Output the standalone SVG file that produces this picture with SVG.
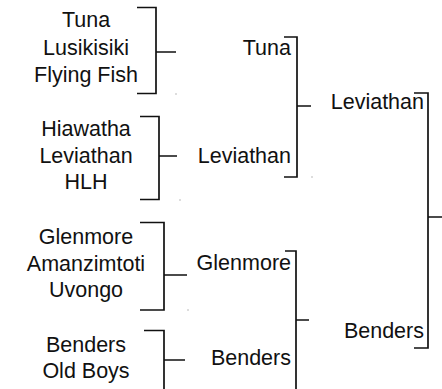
<svg xmlns="http://www.w3.org/2000/svg" width="442" height="389" viewBox="0 0 442 389">
<style>
text{font-family:"Liberation Sans",Arial,sans-serif;font-size:21.5px;fill:#111}
.c{text-anchor:middle}
.r{text-anchor:end}
.ln{fill:none;stroke:#111;stroke-width:1.7}
.dot{fill:#777}
</style>
<rect width="442" height="389" fill="#fff"/>
<g id="n-g1">
<text class="c" x="86" y="27">Tuna</text>
<text class="c" x="86" y="55">Lusikisiki</text>
<text class="c" x="86" y="82">Flying Fish</text>
</g>
<g id="n-g2">
<text class="c" x="86" y="136">Hiawatha</text>
<text class="c" x="86" y="163">Leviathan</text>
<text class="c" x="86" y="189">HLH</text>
</g>
<g id="n-g3">
<text class="c" x="86" y="244">Glenmore</text>
<text class="c" x="86" y="271">Amanzimtoti</text>
<text class="c" x="86" y="297">Uvongo</text>
</g>
<g id="n-g4">
<text class="c" x="86" y="352">Benders</text>
<text class="c" x="86" y="378">Old Boys</text>
</g>
<g id="n-s1">
<text class="r" x="291" y="55">Tuna</text>
<text class="r" x="291" y="163">Leviathan</text>
</g>
<g id="n-s2">
<text class="r" x="291" y="270">Glenmore</text>
<text class="r" x="291" y="365">Benders</text>
</g>
<g id="n-f">
<text class="r" x="424" y="109">Leviathan</text>
<text class="r" x="424" y="338">Benders</text>
</g>
<g id="connectors">
<path class="ln" d="M137,7.5H156V93.5H137M156,52H176"/>
<path class="ln" d="M140,116.5H159V199.5H140M159,156H177"/>
<path class="ln" d="M140,222.5H164V310H140M164,275H187"/>
<path class="ln" d="M144,330.5H164V389M164,360H185"/>
<path class="ln" d="M284,37H297V177H284M297,106H311"/>
<path class="ln" d="M285,251H296V389M296,320H309"/>
<path class="ln" d="M414,93H428V348H414M428,217H442"/>
</g>
<g id="dots">
<rect class="dot" x="175.5" y="93.5" width="1" height="1"/>
<rect class="dot" x="179.5" y="199.5" width="1" height="1"/>
<rect class="dot" x="187.5" y="309.5" width="1" height="1"/>
<rect class="dot" x="311.5" y="176.5" width="1" height="1"/>
</g>
</svg>
